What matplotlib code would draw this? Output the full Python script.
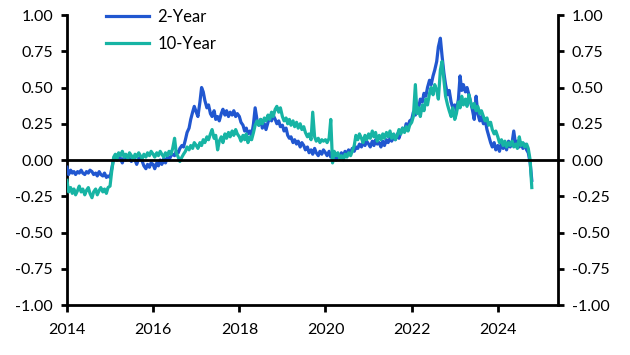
import matplotlib
matplotlib.use("Agg")
import matplotlib.pyplot as plt
import matplotlib.dates as mdates
import numpy as np
import pandas as pd

# ------------------------------------------------------------
# Data: semi-monthly readings (1st and 15th), Jan 2014 - Oct 2024
# ------------------------------------------------------------

two_year = {
    2014: [-0.05, -0.10, -0.07, -0.09, -0.08, -0.10, -0.08, -0.09, -0.07, -0.09, -0.10, -0.08,
           -0.09, -0.07, -0.08, -0.10, -0.09, -0.11, -0.08, -0.10, -0.11, -0.09, -0.12, -0.11],
    2015: [-0.12, -0.06, 0.01, 0.02, 0.00, 0.03, 0.01, -0.02, 0.02, 0.00, 0.03, 0.01,
           -0.01, 0.02, 0.00, -0.03, 0.01, 0.02, -0.01, -0.04, -0.06, -0.03, -0.05, -0.02],
    2016: [-0.03, -0.06, -0.02, -0.04, 0.00, -0.03, 0.01, -0.02, 0.02, 0.00, 0.03, 0.04,
           0.03, 0.06, 0.05, 0.08, 0.10, 0.09, 0.14, 0.19, 0.22, 0.28, 0.33, 0.37],
    2017: [0.33, 0.30, 0.40, 0.50, 0.47, 0.41, 0.36, 0.38, 0.32, 0.30, 0.34, 0.28,
           0.30, 0.27, 0.32, 0.35, 0.31, 0.34, 0.30, 0.33, 0.31, 0.34, 0.30, 0.32],
    2018: [0.30, 0.26, 0.24, 0.20, 0.22, 0.18, 0.20, 0.17, 0.25, 0.36, 0.27, 0.24,
           0.28, 0.22, 0.25, 0.21, 0.26, 0.30, 0.27, 0.31, 0.28, 0.25, 0.27, 0.23],
    2019: [0.24, 0.20, 0.22, 0.17, 0.15, 0.16, 0.12, 0.14, 0.11, 0.13, 0.09, 0.12,
           0.10, 0.07, 0.09, 0.05, 0.07, 0.04, 0.08, 0.05, 0.03, 0.06, 0.04, 0.07],
    2020: [0.05, 0.03, 0.06, 0.02, 0.04, 0.01, 0.00, 0.03, 0.02, 0.05, 0.03, 0.06,
           0.04, 0.07, 0.05, 0.08, 0.06, 0.09, 0.08, 0.11, 0.09, 0.12, 0.10, 0.13],
    2021: [0.11, 0.09, 0.13, 0.10, 0.14, 0.11, 0.12, 0.09, 0.13, 0.10, 0.14, 0.12,
           0.15, 0.13, 0.16, 0.14, 0.18, 0.15, 0.19, 0.22, 0.20, 0.25, 0.23, 0.27],
    2022: [0.28, 0.33, 0.31, 0.38, 0.36, 0.42, 0.40, 0.46, 0.44, 0.50, 0.55, 0.52,
           0.58, 0.62, 0.68, 0.78, 0.84, 0.72, 0.60, 0.52, 0.45, 0.48, 0.40, 0.36],
    2023: [0.38, 0.34, 0.42, 0.58, 0.48, 0.52, 0.47, 0.50, 0.45, 0.40, 0.34, 0.28,
           0.44, 0.32, 0.27, 0.30, 0.25, 0.28, 0.21, 0.17, 0.12, 0.09, 0.12, 0.07],
    2024: [0.10, 0.06, 0.12, 0.08, 0.11, 0.07, 0.13, 0.09, 0.12, 0.20, 0.10, 0.13,
           0.09, 0.12, 0.08, 0.11, 0.07, 0.05, -0.02, -0.14],
}

ten_year = {
    2014: [-0.14, -0.22, -0.19, -0.23, -0.20, -0.24, -0.21, -0.18, -0.22, -0.20, -0.24, -0.21,
           -0.19, -0.23, -0.26, -0.22, -0.20, -0.24, -0.21, -0.19, -0.22, -0.20, -0.23, -0.19],
    2015: [-0.18, -0.08, 0.02, 0.04, 0.01, 0.05, 0.03, 0.06, 0.02, 0.04, 0.01, 0.05,
           0.03, 0.00, 0.04, 0.02, 0.05, 0.03, 0.01, 0.04, 0.02, 0.05, 0.03, 0.06],
    2016: [0.04, 0.02, 0.05, 0.03, 0.06, 0.04, 0.02, 0.05, 0.03, 0.06, 0.04, 0.08,
           0.15, 0.05, 0.02, -0.01, 0.02, 0.04, 0.06, 0.09, 0.07, 0.10, 0.08, 0.12],
    2017: [0.10, 0.08, 0.12, 0.10, 0.14, 0.12, 0.16, 0.14, 0.18, 0.21, 0.15, 0.17,
           0.07, 0.13, 0.16, 0.12, 0.18, 0.15, 0.19, 0.16, 0.20, 0.17, 0.21, 0.18],
    2018: [0.16, 0.13, 0.17, 0.14, 0.18, 0.12, 0.16, 0.14, 0.19, 0.24, 0.27, 0.24,
           0.28, 0.25, 0.29, 0.27, 0.31, 0.28, 0.33, 0.30, 0.35, 0.37, 0.33, 0.36],
    2019: [0.30, 0.27, 0.29, 0.25, 0.28, 0.24, 0.27, 0.23, 0.26, 0.22, 0.25, 0.21,
           0.23, 0.19, 0.16, 0.18, 0.14, 0.33, 0.16, 0.13, 0.15, 0.12, 0.14, 0.13],
    2020: [0.14, 0.12, 0.15, 0.28, -0.02, 0.06, 0.03, 0.05, 0.01, 0.03, 0.00, 0.04,
           0.02, 0.05, 0.03, 0.06, 0.10, 0.17, 0.14, 0.18, 0.15, 0.12, 0.17, 0.14],
    2021: [0.18, 0.15, 0.20, 0.16, 0.19, 0.13, 0.17, 0.14, 0.18, 0.15, 0.19, 0.16,
           0.20, 0.15, 0.18, 0.14, 0.17, 0.21, 0.18, 0.22, 0.19, 0.23, 0.20, 0.24],
    2022: [0.26, 0.30, 0.52, 0.32, 0.36, 0.30, 0.38, 0.34, 0.42, 0.38, 0.46, 0.50,
           0.45, 0.52, 0.48, 0.42, 0.62, 0.68, 0.55, 0.44, 0.38, 0.34, 0.30, 0.36],
    2023: [0.28, 0.32, 0.40, 0.36, 0.44, 0.38, 0.42, 0.37, 0.45, 0.40, 0.36, 0.39,
           0.34, 0.37, 0.32, 0.34, 0.30, 0.27, 0.29, 0.24, 0.26, 0.21, 0.18, 0.20],
    2024: [0.16, 0.12, 0.14, 0.10, 0.13, 0.09, 0.12, 0.10, 0.13, 0.09, 0.11, 0.08,
           0.16, 0.10, 0.12, 0.09, 0.11, 0.08, 0.00, -0.19],
}

series_labels = ["2-Year", "10-Year"]
y_ticks = [-1.0, -0.75, -0.5, -0.25, 0.0, 0.25, 0.5, 0.75, 1.0]

BLUE = "#2157d0"
TEAL = "#17b4a4"


def flatten(d):
    return [v for year in sorted(d) for v in d[year]]


two_vals = flatten(two_year)
ten_vals = flatten(ten_year)
dates = pd.date_range("2014-01-01", periods=len(two_vals), freq="SMS")

# ------------------------------------------------------------
# Plot
# ------------------------------------------------------------

plt.rcParams["font.family"] = ["Lato", "DejaVu Sans"]

fig = plt.figure(figsize=(6.3, 3.55), dpi=100)
ax = fig.add_axes([0.1063, 0.1408, 0.7794, 0.8169])

ax.plot(dates, two_vals, color=BLUE, lw=2.3, label=series_labels[0], zorder=3)
ax.plot(dates, ten_vals, color=TEAL, lw=2.3, label=series_labels[1], zorder=4)
ax.axhline(0, color="black", lw=2.0, zorder=5)

ax.set_ylim(-1.0, 1.0)
ax.set_yticks(y_ticks)
ax.set_yticklabels([f"{t:.2f}" for t in y_ticks])
ax.set_xlim(pd.Timestamp("2014-01-01"), pd.Timestamp("2025-05-25"))
ax.xaxis.set_major_locator(mdates.YearLocator(2))
ax.xaxis.set_major_formatter(mdates.DateFormatter("%Y"))

for side in ["left", "right", "bottom"]:
    ax.spines[side].set_linewidth(2.0)
    ax.spines[side].set_color("black")
ax.spines["top"].set_visible(False)

ax.tick_params(axis="y", which="both", left=True, right=True, labelleft=True,
               labelright=True, direction="out", length=4, width=2.0,
               labelsize=11.5, pad=6)
ax.tick_params(axis="x", direction="out", length=5, width=2.0, labelsize=11.5, pad=8)

ax.legend(loc="upper left", bbox_to_anchor=(0.065, 1.045), frameon=False,
          fontsize=12, handlelength=2.6, handletextpad=0.5, labelspacing=0.7,
          borderaxespad=0)

fig.savefig("out.png", dpi=100)
